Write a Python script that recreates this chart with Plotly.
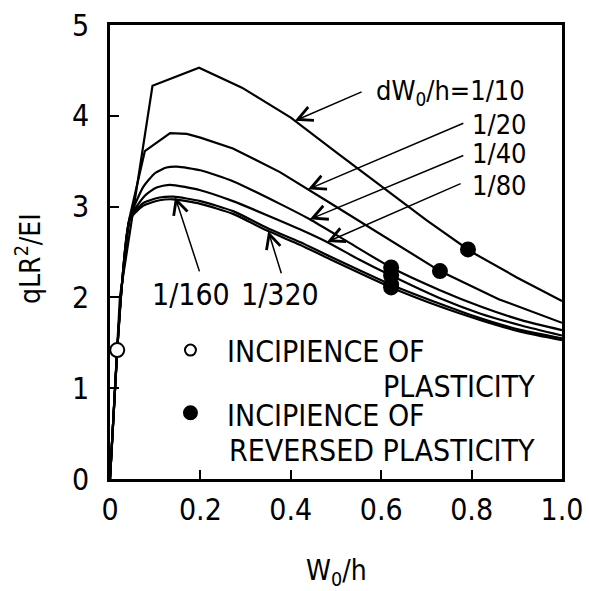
import numpy as np
import plotly.graph_objects as go

# Load-deflection curves qLR^2/EI vs W0/h for several load-step sizes dW0/h
c10_x = [0, 0.016, 0.022, 0.094, 0.197, 0.292, 0.4, 0.5, 0.6, 0.7, 0.8, 0.9, 1.0]
c10_y = [0, 1.42, 2.01, 4.33, 4.53, 4.31, 3.98, 3.60, 3.22, 2.85, 2.50, 2.22, 1.96]

c20_x = [0, 0.016, 0.026, 0.042, 0.077, 0.133, 0.17, 0.2, 0.272, 0.376, 0.487, 0.6, 0.73, 0.86, 1.0]
c20_y = [0, 1.42, 2.12, 2.85, 3.61, 3.81, 3.80, 3.76, 3.64, 3.38, 3.04, 2.69, 2.29, 1.98, 1.72]

c40_x = [0, 0.016, 0.026, 0.044, 0.074, 0.1, 0.125, 0.148, 0.2, 0.272, 0.376, 0.442, 0.53, 0.622, 0.73, 0.82, 0.91, 1.0]
c40_y = [0, 1.42, 2.12, 2.87, 3.22, 3.37, 3.43, 3.44, 3.40, 3.28, 3.03, 2.86, 2.60, 2.33, 2.08, 1.90, 1.75, 1.64]

c80_x = [0, 0.016, 0.026, 0.044, 0.077, 0.103, 0.133, 0.2, 0.272, 0.35, 0.42, 0.48, 0.55, 0.622, 0.73, 0.82, 0.91, 1.0]
c80_y = [0, 1.42, 2.12, 2.87, 3.12, 3.21, 3.24, 3.18, 3.06, 2.90, 2.75, 2.61, 2.42, 2.24, 1.99, 1.82, 1.69, 1.58]

c160_x = [0, 0.016, 0.026, 0.044, 0.074, 0.11, 0.14, 0.2, 0.272, 0.35, 0.42, 0.487, 0.622, 0.73, 0.82, 0.91, 1.0]
c160_y = [0, 1.42, 2.12, 2.87, 3.04, 3.10, 3.11, 3.06, 2.95, 2.76, 2.61, 2.45, 2.14, 1.93, 1.77, 1.64, 1.55]

c320_x = [0, 0.016, 0.026, 0.044, 0.074, 0.11, 0.14, 0.2, 0.272, 0.35, 0.42, 0.487, 0.622, 0.73, 0.82, 0.91, 1.0]
c320_y = [0, 1.42, 2.12, 2.86, 3.01, 3.07, 3.08, 3.03, 2.92, 2.73, 2.58, 2.42, 2.11, 1.90, 1.75, 1.62, 1.53]

# Incipience of plasticity (open circle) and of reversed plasticity (filled circles)
plast_x = [0.016]
plast_y = [1.42]
rev_x = {"1/10": 0.792, "1/20": 0.73, "1/40": 0.622, "1/80": 0.622, "1/160": 0.622, "1/320": 0.622}

curves = {
    "1/10": (c10_x, c10_y, "linear"),
    "1/20": (c20_x, c20_y, "linear"),
    "1/40": (c40_x, c40_y, "spline"),
    "1/80": (c80_x, c80_y, "spline"),
    "1/160": (c160_x, c160_y, "spline"),
    "1/320": (c320_x, c320_y, "spline"),
}

FONT = "DejaVu Sans Condensed, Liberation Sans Narrow, DejaVu Sans, sans-serif"

fig = go.Figure()
for name, (xs, ys, shape) in curves.items():
    fig.add_trace(go.Scatter(x=xs, y=ys, mode="lines", name=name,
                             line=dict(color="black", width=2.2, shape=shape, smoothing=0.6),
                             showlegend=False, hoverinfo="skip"))

rx = list(rev_x.values())
ry = [float(np.interp(v, curves[k][0], curves[k][1])) for k, v in rev_x.items()]
fig.add_trace(go.Scatter(x=rx, y=ry, mode="markers", showlegend=False,
                         marker=dict(color="black", size=16, line=dict(width=0))))
fig.add_trace(go.Scatter(x=plast_x, y=plast_y, mode="markers", showlegend=False,
                         marker=dict(color="white", size=14, line=dict(color="black", width=2))))

# Arrows from the step-size labels to their curves: (curve, tip x, tail x, tail y)
arrows = [
    ("1/10", 0.409, 0.56, 4.27),
    ("1/20", 0.438, 0.785, 3.925),
    ("1/40", 0.442, 0.785, 3.57),
    ("1/80", 0.48, 0.779, 3.26),
    ("1/160", 0.144, 0.199, 2.27),
    ("1/320", 0.35, 0.38, 2.25),
]
for name, tx, axx, ayy in arrows:
    ty = float(np.interp(tx, curves[name][0], curves[name][1]))
    fig.add_annotation(x=tx, y=ty, ax=axx, ay=ayy, xref="x", yref="y", axref="x", ayref="y",
                       text="", showarrow=True, arrowhead=5, arrowsize=1.9, arrowwidth=1.5,
                       arrowcolor="black", standoff=0)

big = dict(family=FONT, size=30, color="black")
step = dict(family=FONT, size=27, color="black")
labels = [
    ("dW<sub>0</sub>/h=1/10", 0.586, 0.851, "left", step),
    ("1/20", 0.925, 0.781, "right", step),
    ("1/40", 0.925, 0.717, "right", step),
    ("1/80", 0.925, 0.646, "right", step),
    ("1/160", 0.091, 0.406, "left", big),
    ("1/320", 0.288, 0.406, "left", big),
    ("INCIPIENCE OF", 0.257, 0.280, "left", big),
    ("PLASTICITY", 0.942, 0.203, "right", big),
    ("INCIPIENCE OF", 0.257, 0.139, "left", big),
    ("REVERSED PLASTICITY", 0.942, 0.062, "right", big),
]
for t, x, y, anc, f in labels:
    fig.add_annotation(text=t, x=x, y=y, xref="paper", yref="paper", xanchor=anc,
                       yanchor="middle", showarrow=False, font=f, borderpad=0)

# Legend keys
fig.add_shape(type="circle", xref="paper", yref="paper", xsizemode="pixel", ysizemode="pixel",
              xanchor=0.178, yanchor=0.284, x0=-5.5, x1=5.5, y0=-5.5, y1=5.5,
              line=dict(color="black", width=2), fillcolor="white")
fig.add_shape(type="circle", xref="paper", yref="paper", xsizemode="pixel", ysizemode="pixel",
              xanchor=0.178, yanchor=0.146, x0=-7.5, x1=7.5, y0=-7.5, y1=7.5,
              line=dict(color="black", width=0), fillcolor="black")

# Axis titles
fig.add_annotation(text="qLR<sup>2</sup>/EI", x=-0.179, y=0.485, xref="paper", yref="paper",
                   xanchor="center", yanchor="middle", textangle=-90, showarrow=False,
                   font=dict(family=FONT, size=28, color="black"))
fig.add_annotation(text="W<sub>0</sub>/h", x=0.502, y=-0.207, xref="paper", yref="paper",
                   xanchor="center", yanchor="middle", showarrow=False,
                   font=dict(family=FONT, size=28, color="black"))

axis_common = dict(showline=True, linecolor="black", linewidth=2.5, mirror=True,
                   ticks="inside", ticklen=9, tickwidth=2, tickcolor="black",
                   showgrid=False, zeroline=False, automargin=False,
                   tickfont=dict(family=FONT, size=30, color="black"))

fig.update_layout(
    width=589, height=591,
    margin=dict(l=110, r=27, t=25, b=112),
    paper_bgcolor="white", plot_bgcolor="white",
    xaxis=dict(range=[0, 1.0], tickvals=[0, 0.2, 0.4, 0.6, 0.8, 1.0],
               ticktext=["0", "0.2", "0.4", "0.6", "0.8", "1.0"], ticklabelstandoff=2,
               **axis_common),
    yaxis=dict(range=[0, 5], tickvals=[0, 1, 2, 3, 4, 5],
               ticktext=["0", "1", "2", "3", "4", "5"], ticklabelstandoff=12,
               **axis_common),
)

fig.write_html("out.html")
